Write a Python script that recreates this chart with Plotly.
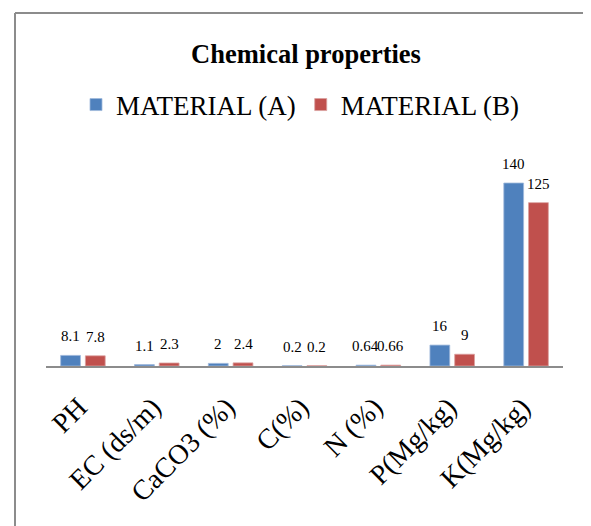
import plotly.graph_objects as go

categories = ["PH", "EC (ds/m)", "CaCO3 (%)", "C(%)", "N (%)", "P(Mg/kg)", "K(Mg/kg)"]
material_a = [8.1, 1.1, 2, 0.2, 0.64, 16, 140]
material_b = [7.8, 2.3, 2.4, 0.2, 0.66, 9, 125]
label_a = ["8.1", "1.1", "2", "0.2", "0.64", "16", "140"]
label_b = ["7.8", "2.3", "2.4", "0.2", "0.66", "9", "125"]

SERIF = "Liberation Serif, Times New Roman, serif"
BLUE = "#4F81BD"
RED = "#C0504D"

# page has an 8px body margin; work in reference pixel coords and subtract it
OFF = 8
W, H = 591 - OFF, 526 - OFF
PLOT_L, PLOT_R, AXIS_Y, PLOT_T = 46, 563, 366, 150
ML = PLOT_L - OFF
MR = W - (PLOT_R - OFF)
MT = PLOT_T - OFF
MB = H - (AXIS_Y - OFF)
PW = W - ML - MR
PH_ = H - MT - MB

fig = go.Figure()
fig.add_trace(go.Bar(name="MATERIAL (A)", x=categories, y=material_a,
                     marker=dict(color=BLUE, line=dict(color="#9fb9dc", width=0.8))))
fig.add_trace(go.Bar(name="MATERIAL (B)", x=categories, y=material_b,
                     marker=dict(color=RED, line=dict(color="#dba09e", width=0.8))))

slot = PW / len(categories)
bargap = 0.33
bar_off = slot * (1 - bargap) / 4

annotations = []
for c, va, vb, la, lb in zip(categories, material_a, material_b, label_a, label_b):
    for v, t, sh in ((va, la, -bar_off), (vb, lb, bar_off)):
        annotations.append(dict(x=c, y=v, xref="x", yref="y", text=t, showarrow=False,
                                xshift=sh, yshift=19, yanchor="middle",
                                font=dict(family=SERIF, size=15, color="#000000")))

def px_x(p):
    return (p - OFF - ML) / PW

def px_y(p):
    return (H - MB - (p - OFF)) / PH_

shapes = [
    dict(type="line", xref="paper", yref="paper", x0=px_x(15), x1=px_x(15), y0=px_y(13), y1=px_y(540),
         line=dict(color="#8c8c8c", width=2)),
    dict(type="line", xref="paper", yref="paper", x0=px_x(15), x1=px_x(590), y0=px_y(13), y1=px_y(13),
         line=dict(color="#8c8c8c", width=2)),
    dict(type="line", xref="paper", yref="paper", x0=px_x(590), x1=px_x(590), y0=px_y(13), y1=px_y(540),
         line=dict(color="#d4d4d4", width=1.5)),
]

fig.update_layout(
    width=W, height=H,
    margin=dict(l=ML, r=MR, t=MT, b=MB),
    paper_bgcolor="white", plot_bgcolor="white",
    barmode="group", bargap=bargap, bargroupgap=0.2,
    title=dict(text="<b>Chemical properties</b>", x=(306 - OFF) / W, xanchor="center",
               y=1 - (54 - OFF) / H, yanchor="middle", yref="container",
               font=dict(family=SERIF, size=26.5, color="#000000")),
    legend=dict(orientation="h", x=px_x(300), xanchor="center", y=px_y(105), yanchor="middle",
                font=dict(family=SERIF, size=27, color="#000000"), bgcolor="rgba(0,0,0,0)"),
    xaxis=dict(type="category", showline=True, linecolor="#8c8c8c", linewidth=1.5,
               ticks="", tickangle=-45, showgrid=False,
               ticklabelstandoff=12, ticklabelshift=-4,
               tickfont=dict(family=SERIF, size=28, color="#000000")),
    yaxis=dict(range=[0, PH_ / 1.307], visible=False, showgrid=False, zeroline=False),
    annotations=annotations,
    shapes=shapes,
    showlegend=True,
)

fig.write_html("out.html")
